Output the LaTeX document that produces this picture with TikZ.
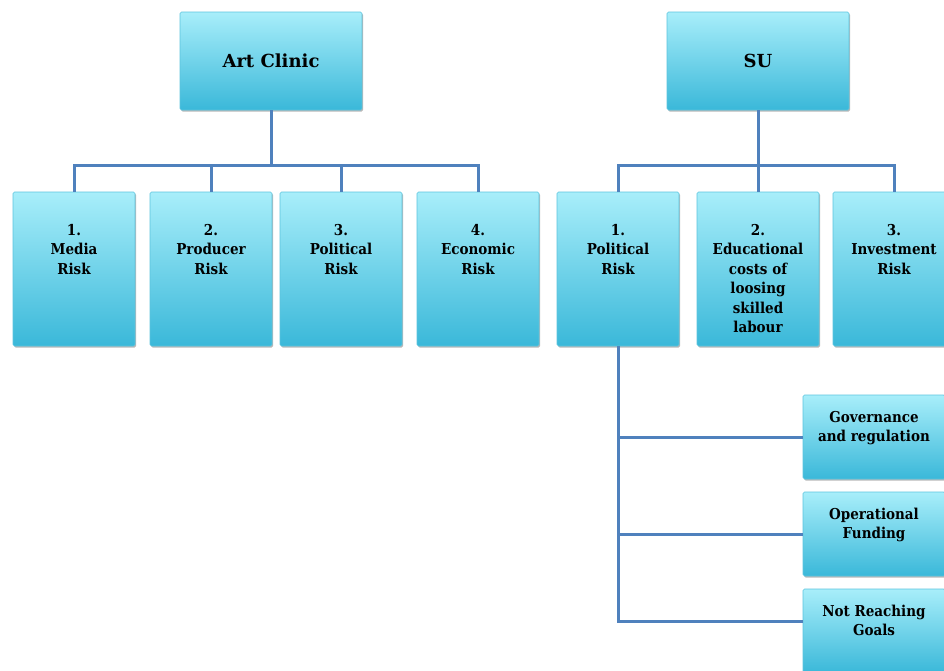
\documentclass[tikz,border=0pt]{standalone}
\usepackage{fontspec}
\setmainfont{DejaVu Serif}
\newfontfamily\condfont{DejaVu Serif Condensed}
\usetikzlibrary{shadows}
\definecolor{ctop}{HTML}{A8EEFA}
\definecolor{cbot}{HTML}{3AB8D9}
\definecolor{cedge}{HTML}{5CC4DE}
\definecolor{cline}{HTML}{4F81BD}
\newcommand\boxtext[4]{\begin{minipage}[t][#2][t]{#1}\centering\vspace*{#3}#4\end{minipage}}
\tikzset{
  box/.style={draw=cedge, line width=0.6pt, rounded corners=1.5pt,
    top color=ctop, bottom color=cbot, inner sep=0pt,
    drop shadow={shadow xshift=1.2pt, shadow yshift=-1.5pt, opacity=0.4, fill=black!70}},
  conn/.style={draw=cline, line width=3pt},
  titlefont/.style={font=\fontsize{18}{22}\selectfont\bfseries},
  itemfont/.style={font=\condfont\bfseries\fontsize{15}{19.5}\selectfont}
}
\begin{document}
\begin{tikzpicture}[x=1pt,y=1pt]
\useasboundingbox (0,0) rectangle (944,-670);
\clip (0,0) rectangle (944,-670);
% top level
\node[box, titlefont, minimum width=182pt, minimum height=98pt] (art) at (271,-61) {Art Clinic};
\node[box, titlefont, minimum width=182pt, minimum height=98pt] (su) at (758,-61) {SU};
% level 2
\node[box, itemfont] (m1) at (74,-269) {\boxtext{122pt}{154pt}{32pt}{1.\\Media\\Risk}};
\node[box, itemfont] (m2) at (211,-269) {\boxtext{122pt}{154pt}{32pt}{2.\\Producer\\Risk}};
\node[box, itemfont] (m3) at (341,-269) {\boxtext{122pt}{154pt}{32pt}{3.\\Political\\Risk}};
\node[box, itemfont] (m4) at (478,-269) {\boxtext{122pt}{154pt}{32pt}{4.\\Economic\\Risk}};
\node[box, itemfont] (p1) at (618,-269) {\boxtext{122pt}{154pt}{32pt}{1.\\Political\\Risk}};
\node[box, itemfont] (e2) at (758,-269) {\boxtext{122pt}{154pt}{32pt}{2.\\Educational\\costs of\\loosing\\skilled\\labour}};
\node[box, itemfont] (i3) at (894,-269) {\boxtext{122pt}{154pt}{32pt}{3.\\Investment\\Risk}};
% level 3
\node[box, itemfont] (g) at (874,-437) {\boxtext{142pt}{84pt}{16pt}{Governance\\and regulation}};
\node[box, itemfont] (o) at (874,-534) {\boxtext{142pt}{84pt}{16pt}{Operational\\Funding}};
\node[box, itemfont] (n) at (874,-631) {\boxtext{142pt}{84pt}{16pt}{Not Reaching\\Goals}};
% connectors
\foreach \c in {m1,m2,m3,m4} \draw[conn] (art.south) -- ++(0,-55) -| (\c.north);
\foreach \c in {p1,e2,i3} \draw[conn] (su.south) -- ++(0,-55) -| (\c.north);
\foreach \c in {g,o} \draw[conn] (p1.south) |- (\c.west);
\draw[conn] (p1.south) |- ([yshift=10pt]n.west);
\end{tikzpicture}
\end{document}
